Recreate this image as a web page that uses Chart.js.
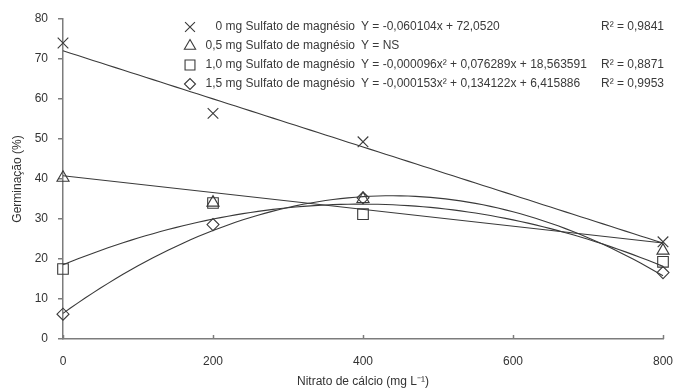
<!DOCTYPE html>
<html>
<head>
<meta charset="utf-8">
<script src="https://cdn.jsdelivr.net/npm/chart.js@4.4.1/dist/chart.umd.min.js"></script>
<style>
  html, body { margin: 0; padding: 0; background: #ffffff; }
  #wrap { width: 677px; height: 390px; position: relative; }
</style>
</head>
<body>
<div id="wrap"><canvas id="chart" width="677" height="390"></canvas></div>
<script>
// Calcium nitrate doses (mg L-1)
const doses = [0, 200, 400, 800];

// Germination (%) per magnesium sulphate level
const mg00 = [74.0, 56.4, 49.3, 24.3];
const mg05 = [40.3, 34.1, 35.0, 22.1];
const mg10 = [17.5, 34.0, 31.2, 19.3];
const mg15 = [6.2, 28.6, 35.3, 16.6];

// Regression coefficients [b0, b1, b2] from the legend equations
const fit00 = [72.0520, -0.060104, 0];
const fit10 = [18.563591, 0.076289, -0.000096];
const fit15 = [6.415886, 0.134122, -0.000153];
// Non-significant series: straight reference line, ends at x = 0 and x = 800
const line05 = [40.8, 24.0];

// Legend texts
const seriesNames = [
  '0 mg Sulfato de magnésio',
  '0,5 mg Sulfato de magnésio',
  '1,0 mg Sulfato de magnésio',
  '1,5 mg Sulfato de magnésio'
];
const equations = [
  'Y = -0,060104x + 72,0520',
  'Y = NS',
  'Y = -0,000096x² + 0,076289x + 18,563591',
  'Y = -0,000153x² + 0,134122x + 6,415886'
];
const rSquared = ['R² = 0,9841', '', 'R² = 0,8871', 'R² = 0,9953'];

// Tick values
const xTicks = [0, 200, 400, 600, 800];

const ink = '#3a3a3a';
const axisGray = '#7c7c7c';
const FONT = '"Liberation Sans", Arial, sans-serif';

function curve(c) {
  const pts = [];
  for (let x = 0; x <= 800; x += 10) {
    pts.push({ x: x, y: c[0] + c[1] * x + c[2] * x * x });
  }
  return pts;
}
function pointsOf(vals) {
  return doses.map((d, i) => ({ x: d, y: vals[i] }));
}

const markerStyles = [
  { pointStyle: 'crossRot', radius: 7.5 },
  { pointStyle: 'triangle', radius: 7 },
  { pointStyle: 'rect', radius: 7.5 },
  { pointStyle: 'rectRot', radius: 6 }
];
const series = [mg00, mg05, mg10, mg15];

const lineDefaults = {
  type: 'line', showLine: true, borderColor: ink, borderWidth: 1.1,
  pointRadius: 0, fill: false, tension: 0, clip: false
};

const datasets = [
  Object.assign({ data: curve(fit00) }, lineDefaults),
  Object.assign({ data: [{ x: 0, y: line05[0] }, { x: 800, y: line05[1] }] }, lineDefaults),
  Object.assign({ data: curve(fit10) }, lineDefaults),
  Object.assign({ data: curve(fit15) }, lineDefaults)
];
series.forEach((s, i) => {
  datasets.push({
    type: 'scatter',
    data: pointsOf(s),
    pointStyle: markerStyles[i].pointStyle,
    pointRadius: markerStyles[i].radius,
    pointBorderColor: ink,
    pointBackgroundColor: 'rgba(255,255,255,0)',
    pointBorderWidth: 1.1,
    showLine: false,
    clip: false
  });
});

// Upward tick marks on the x axis and the legend block
const decorations = {
  id: 'decorations',
  afterDraw(chart) {
    const ctx = chart.ctx;
    const xs = chart.scales.x;
    const ys = chart.scales.y;
    const base = ys.getPixelForValue(0);
    ctx.save();
    ctx.strokeStyle = axisGray;
    ctx.lineWidth = 1.5;
    xTicks.forEach(v => {
      const px = Math.round(xs.getPixelForValue(v)) + 0.5;
      ctx.beginPath();
      ctx.moveTo(px, base);
      ctx.lineTo(px, base - 4);
      ctx.stroke();
    });

    // Legend
    const rows = [27, 46, 65, 84];
    ctx.font = '12px ' + FONT;
    ctx.textBaseline = 'middle';
    rows.forEach((y, i) => {
      ctx.fillStyle = 'rgba(255,255,255,0)';
      ctx.strokeStyle = ink;
      ctx.lineWidth = 1.1;
      Chart.helpers.drawPoint(ctx, {
        pointStyle: markerStyles[i].pointStyle,
        radius: markerStyles[i].radius - 0.5,
        borderWidth: 1.1
      }, 190, y);
      ctx.fillStyle = ink;
      ctx.textAlign = 'right';
      ctx.fillText(seriesNames[i], 355, y);
      ctx.textAlign = 'left';
      ctx.fillText(equations[i], 361, y);
      if (rSquared[i]) ctx.fillText(rSquared[i], 601, y);
    });
    ctx.restore();
  }
};

new Chart(document.getElementById('chart'), {
  type: 'scatter',
  data: { datasets: datasets },
  options: {
    responsive: false,
    animation: false,
    layout: { padding: { top: 19, right: 14, left: 0, bottom: 0 } },
    plugins: { legend: { display: false }, tooltip: { enabled: false } },
    scales: {
      x: {
        type: 'linear', min: 0, max: 800,
        afterFit(scale) {
          scale.height = 51;
          scale.paddingLeft = 0;
          scale.paddingRight = 0;
        },
        afterBuildTicks(scale) { scale.ticks = xTicks.map(v => ({ value: v })); },
        grid: { display: false, drawTicks: false },
        border: { display: true, color: axisGray, width: 1.5 },
        ticks: { color: '#333333', font: { family: FONT, size: 12 }, padding: 15, maxRotation: 0 },
        title: {
          display: true, text: 'Nitrato de cálcio (mg L⁻¹)', color: '#333333',
          font: { family: FONT, size: 12 }, padding: { top: 0, bottom: 1 }
        }
      },
      y: {
        type: 'linear', min: 0, max: 80,
        afterFit(scale) {
          scale.width = 63;
          scale.paddingTop = 0;
          scale.paddingBottom = 0;
        },
        ticks: { stepSize: 10, color: '#333333', font: { family: FONT, size: 12 }, padding: 10 },
        grid: { drawOnChartArea: false, drawTicks: true, tickLength: 5, color: axisGray, lineWidth: 1.5 },
        border: { display: true, color: axisGray, width: 1.5 },
        title: {
          display: true, text: 'Germinação (%)', color: '#333333',
          font: { family: FONT, size: 12 }, padding: { top: 10, bottom: 0 }
        }
      }
    }
  },
  plugins: [decorations]
});
</script>
</body>
</html>
